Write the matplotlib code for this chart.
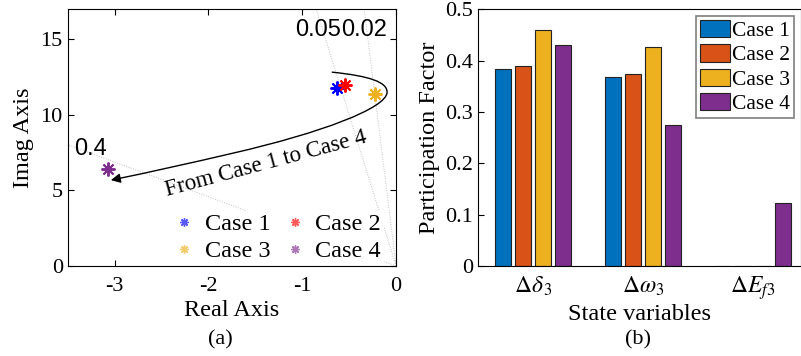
import numpy as np
import matplotlib
matplotlib.use("Agg")
import matplotlib.pyplot as plt
from matplotlib.path import Path
from matplotlib.patches import FancyArrowPatch
from matplotlib.lines import Line2D

plt.rcParams['font.family'] = 'Liberation Serif'
plt.rcParams['mathtext.fontset'] = 'stix'
plt.rcParams['axes.unicode_minus'] = False

# ---- data: panel (a) eigenvalues
cases = ['Case 1', 'Case 2', 'Case 3', 'Case 4']
eig_real = [-0.63, -0.54, -0.23, -3.07]
eig_imag = [11.8, 12.0, 11.4, 6.4]
eig_colors = ['#0000ff', '#ff0000', '#edb120', '#7e2f8e']

# damping ratio grid lines and their labels
zetas = [0.4, 0.05, 0.02]
zeta_labels = ['0.4', '0.05', '0.02']
zeta_label_xy = [(-3.43, 7.34), (-0.585, 15.2), (-0.099, 15.2)]
zeta_label_ha = ['left', 'right', 'right']

# trajectory (bezier control points) of the annotation arrow
traj = [(-0.681, 12.82), (-0.277, 12.56), (-0.096, 12.16), (-0.096, 11.50),
        (-0.096, 10.44), (-0.809, 8.79), (-1.734, 7.47),
        (-2.19, 6.81), (-2.62, 6.21), (-3.04, 5.68)]

# ---- data: panel (b) participation factors
state_vars = [r'$\Delta\delta_{\,3}$', r'$\Delta\omega_3$', r'$\Delta E_{f3}$']
pf_case1 = [0.384, 0.3675, 0.0]
pf_case2 = [0.390, 0.374, 0.0]
pf_case3 = [0.460, 0.4266, 0.0]
pf_case4 = [0.430, 0.274, 0.1227]
bar_colors = ['#0072bd', '#d95319', '#edb120', '#7e2f8e']

fig = plt.figure(figsize=(8.01, 3.56), dpi=100)

# ================= panel (a)
ax1 = fig.add_axes([0.0845, 0.2528, 0.41, 0.722])
ax1.set_xlim(-3.5, 0)
ax1.set_ylim(0, 17)

# damping lines
for z in zetas:
    wn = 40.0
    ax1.plot([0, -z * wn], [0, wn * np.sqrt(1 - z ** 2)], ls=(0, (1, 1.5)),
             color='#c0c0c0', lw=0.7, zorder=1)
for lab, (tx, ty), ha in zip(zeta_labels, zeta_label_xy, zeta_label_ha):
    ax1.text(tx, ty, lab, family='Liberation Sans', fontsize=17, ha=ha,
             va='baseline')

# eigenvalues
for xr, yi, c in zip(eig_real, eig_imag, eig_colors):
    ax1.plot(xr, yi, marker=(8, 2, 0), ms=10, mew=1.4, color=c, ls='none', zorder=4)

# arrow along trajectory
codes = [Path.MOVETO] + [Path.CURVE4] * (len(traj) - 1)
arrow = FancyArrowPatch(path=Path(traj, codes), arrowstyle='-|>',
                        mutation_scale=14, color='black', lw=1.0, zorder=3)
ax1.add_patch(arrow)
ax1.text(-1.39, 6.75, 'From Case 1 to Case 4', rotation=15, fontsize=16.5,
         ha='center', va='center')

# legend is filled column-wise, so order the handles to read row-wise
order = [0, 2, 1, 3]
handles = [Line2D([], [], marker=(8, 2, 0), ms=6, mew=1.0, color=eig_colors[i],
                  ls='none', alpha=0.65) for i in order]
leg1 = ax1.legend(handles, [cases[i] for i in order], ncol=2, loc='lower right',
                  bbox_to_anchor=(0.965, 0.0), fontsize=17.5, frameon=True,
                  edgecolor='white', framealpha=1, fancybox=False,
                  borderaxespad=0.05, handletextpad=0.45, columnspacing=0.6,
                  labelspacing=0.2, handlelength=0.8, borderpad=0.1)
leg1.set_zorder(2.2)

ax1.set_xticks([-3, -2, -1, 0])
ax1.set_xticklabels(['-3', '-2', '-1', '0'])
ax1.set_yticks([0, 5, 10, 15])
ax1.tick_params(direction='in', top=True, right=True, labelsize=16, length=4)
ax1.tick_params(axis='x', pad=8)
ax1.set_xlabel('Real Axis', fontsize=17.5, labelpad=3)
ax1.set_ylabel('Imag Axis', fontsize=17.5, labelpad=5)
fig.text(0.2755, 0.045, '(a)', fontsize=16, ha='center', va='center')

# ================= panel (b)
ax2 = fig.add_axes([0.597, 0.2528, 0.4029, 0.721])
groups = np.arange(1, len(state_vars) + 1)
pitch = 0.182
bw = 0.145
all_pf = [pf_case1, pf_case2, pf_case3, pf_case4]
for k, (vals, c) in enumerate(zip(all_pf, bar_colors)):
    ax2.bar(groups + (k - 1.5) * pitch, vals, width=bw, color=c,
            edgecolor='#222222', lw=0.8, label=cases[k], zorder=2)
ax2.set_xlim(0.5, 3.44)
ax2.set_ylim(0, 0.5)
ax2.set_yticks([0, 0.1, 0.2, 0.3, 0.4, 0.5])
ax2.set_yticklabels(['0', '0.1', '0.2', '0.3', '0.4', '0.5'])
ax2.set_xticks(groups)
ax2.set_xticklabels(state_vars)
ax2.tick_params(direction='in', top=False, right=False, labelsize=16, length=4)
ax2.tick_params(axis='x', length=0, labelsize=17, pad=6)
ax2.set_xlabel('State variables', fontsize=17.5, labelpad=1)
ax2.set_ylabel('Participation Factor', fontsize=17.5, labelpad=4)
leg2 = ax2.legend(loc='upper right', fontsize=15.5, fancybox=False,
                  edgecolor='#7f7f7f', framealpha=1, borderaxespad=0.3,
                  handlelength=1.4, handleheight=0.85, handletextpad=0.1,
                  labelspacing=0.15, borderpad=0.2)
leg2.get_frame().set_linewidth(1.2)
fig.text(0.797, 0.045, '(b)', fontsize=16, ha='center', va='center')

fig.savefig('out.png', dpi=100)
